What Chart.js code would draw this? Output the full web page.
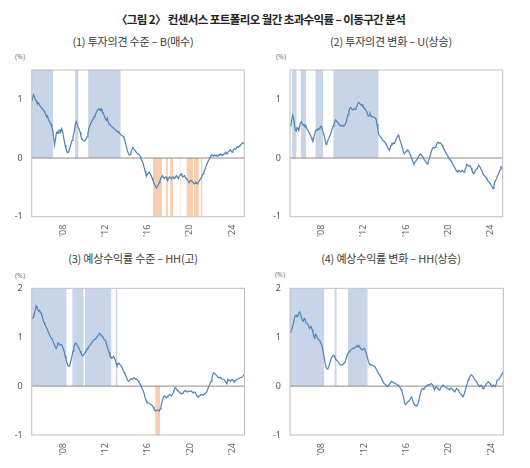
<!DOCTYPE html>
<html>
<head>
<meta charset="utf-8">
<script src="https://cdn.jsdelivr.net/npm/chart.js@4.4.1/dist/chart.umd.min.js"></script>
<style>
  body { margin: 0; background: #fff; width: 530px; height: 468px; position: relative; overflow: hidden;
         font-family: "Noto Sans CJK KR", "Noto Sans", sans-serif; }
  .title { position: absolute; left: 0; width: 521px; top: 11px; text-align: center; font-weight: bold; font-size: 11.5px;
           letter-spacing: -0.6px; color: #222; }
  .sub { position: absolute; width: 260px; text-align: center; font-size: 11px; letter-spacing: -0.2px; color: #3a3a3a; }
  .unit { position: absolute; font-size: 7px; color: #777; font-family: "Noto Sans", sans-serif; }
  canvas { position: absolute; }
</style>
</head>
<body>
<div class="title">〈그림 2〉 컨센서스 포트폴리오 월간 초과수익률 – 이동구간 분석</div>

<div class="sub" style="left:3px; top:33px;">(1) 투자의견 수준 – B(매수)</div>
<div class="sub" style="left:261px; top:33px;">(2) 투자의견 변화 – U(상승)</div>
<div class="sub" style="left:3px; top:250px;">(3) 예상수익률 수준 – HH(고)</div>
<div class="sub" style="left:261px; top:250px;">(4) 예상수익률 변화 – HH(상승)</div>

<div class="unit" style="left:15px; top:52px;">(%)</div>
<div class="unit" style="left:276px; top:52px;">(%)</div>
<div class="unit" style="left:15px; top:271px;">(%)</div>
<div class="unit" style="left:275px; top:270px;">(%)</div>

<canvas id="c1" width="262" height="180" style="left:0px; top:62px;"></canvas>
<canvas id="c2" width="262" height="180" style="left:258px; top:62px;"></canvas>
<canvas id="c3" width="262" height="180" style="left:0px; top:280px;"></canvas>
<canvas id="c4" width="262" height="180" style="left:258px; top:280px;"></canvas>

<script>
// monthly series, Jan 2005 .. Mar 2025
const startYear = 2005;
const tickYears = [2008, 2012, 2016, 2020, 2024];
const tickLabels = ["'08", "'12", "'16", "'20", "'24"];

// (1) 투자의견 수준 - B(매수)
const buyLevel = [
  0.96, 1.02, 1.08, 1.05, 1.00, 0.98, 0.94, 0.93, 0.94, 0.90, 0.88, 0.86,
  0.85, 0.82, 0.80, 0.78, 0.74, 0.70, 0.72, 0.66, 0.62, 0.60, 0.58, 0.52,
  0.47, 0.35, 0.22, 0.32, 0.42, 0.45, 0.42, 0.47, 0.48, 0.44, 0.50, 0.46,
  0.38, 0.30, 0.22, 0.16, 0.12, 0.09, 0.10, 0.16, 0.20, 0.26, 0.30, 0.36,
  0.42, 0.50, 0.60, 0.62, 0.56, 0.52, 0.50, 0.44, 0.38, 0.33, 0.31, 0.30,
  0.29, 0.30, 0.33, 0.36, 0.42, 0.50, 0.55, 0.58, 0.62, 0.64, 0.66, 0.70,
  0.72, 0.76, 0.79, 0.82, 0.84, 0.83, 0.81, 0.84, 0.80, 0.78, 0.74, 0.70,
  0.66, 0.64, 0.68, 0.62, 0.58, 0.57, 0.55, 0.54, 0.52, 0.51, 0.50, 0.48,
  0.47, 0.46, 0.44, 0.45, 0.42, 0.41, 0.39, 0.38, 0.37, 0.34, 0.30, 0.24,
  0.18, 0.12, 0.08, 0.05, 0.06, 0.10, 0.14, 0.18, 0.16, 0.14, 0.12, 0.10,
  0.08, 0.07, 0.06, 0.04, 0.01, -0.03, -0.06, -0.10, -0.16, -0.22, -0.28, -0.30,
  -0.27, -0.25, -0.24, -0.28, -0.30, -0.34, -0.38, -0.42, -0.45, -0.48, -0.51, -0.49,
  -0.46, -0.42, -0.38, -0.34, -0.32, -0.30, -0.33, -0.35, -0.33, -0.32, -0.36, -0.38,
  -0.34, -0.32, -0.34, -0.36, -0.33, -0.32, -0.35, -0.34, -0.31, -0.30, -0.33, -0.35,
  -0.31, -0.29, -0.27, -0.30, -0.32, -0.31, -0.30, -0.33, -0.35, -0.37, -0.39, -0.41,
  -0.40, -0.38, -0.39, -0.41, -0.42, -0.44, -0.43, -0.41, -0.43, -0.44, -0.41, -0.38,
  -0.36, -0.34, -0.30, -0.27, -0.24, -0.20, -0.16, -0.12, -0.08, -0.05, -0.02, 0.01,
  0.04, 0.06, 0.05, 0.03, 0.05, 0.04, 0.05, 0.03, 0.04, 0.06, 0.05, 0.07,
  0.05, 0.04, 0.06, 0.07, 0.09, 0.10, 0.07, 0.08, 0.11, 0.12, 0.14, 0.12,
  0.10, 0.12, 0.15, 0.16, 0.15, 0.17, 0.19, 0.18, 0.20, 0.21, 0.23, 0.24,
  0.26, 0.25, 0.24
];

// (2) 투자의견 변화 - U(상승)
const upChange = [
  0.57, 0.55, 0.66, 0.73, 0.68, 0.58, 0.48, 0.46, 0.52, 0.50, 0.47, 0.55,
  0.60, 0.62, 0.58, 0.56, 0.57, 0.54, 0.55, 0.51, 0.48, 0.46, 0.42, 0.40,
  0.36, 0.32, 0.28, 0.34, 0.40, 0.46, 0.48, 0.47, 0.50, 0.49, 0.52, 0.54,
  0.53, 0.47, 0.42, 0.38, 0.30, 0.23, 0.26, 0.30, 0.33, 0.37, 0.40, 0.45,
  0.50, 0.54, 0.58, 0.62, 0.65, 0.63, 0.61, 0.59, 0.57, 0.56, 0.55, 0.56,
  0.55, 0.54, 0.56, 0.58, 0.62, 0.68, 0.74, 0.80, 0.85, 0.86, 0.84, 0.82,
  0.82, 0.84, 0.83, 0.86, 0.88, 0.92, 0.95, 0.94, 0.92, 0.90, 0.91, 0.88,
  0.86, 0.84, 0.82, 0.80, 0.76, 0.71, 0.72, 0.76, 0.72, 0.70, 0.71, 0.70,
  0.69, 0.68, 0.66, 0.58, 0.48, 0.40, 0.38, 0.36, 0.34, 0.31, 0.30, 0.28,
  0.27, 0.24, 0.22, 0.18, 0.15, 0.13, 0.17, 0.22, 0.25, 0.24, 0.26, 0.25,
  0.29, 0.33, 0.36, 0.39, 0.36, 0.31, 0.27, 0.22, 0.16, 0.10, 0.07, 0.09,
  0.11, 0.13, 0.14, 0.12, 0.08, 0.05, 0.01, -0.03, -0.07, -0.10, -0.08, -0.06,
  -0.03, -0.01, 0.02, 0.05, 0.07, 0.06, 0.04, 0.02, -0.01, -0.03, -0.05, -0.08,
  -0.10, -0.07, -0.03, 0.02, 0.07, 0.12, 0.16, 0.18, 0.17, 0.18, 0.20, 0.24,
  0.27, 0.26, 0.25, 0.26, 0.24, 0.22, 0.19, 0.16, 0.13, 0.10, 0.07, 0.05,
  0.02, -0.01, -0.03, -0.04, -0.07, -0.10, -0.13, -0.15, -0.18, -0.21, -0.23, -0.24,
  -0.21, -0.22, -0.24, -0.22, -0.21, -0.23, -0.24, -0.20, -0.17, -0.11, -0.12, -0.13,
  -0.14, -0.13, -0.17, -0.21, -0.24, -0.27, -0.25, -0.21, -0.19, -0.18, -0.14, -0.13,
  -0.15, -0.18, -0.21, -0.24, -0.28, -0.30, -0.31, -0.33, -0.36, -0.38, -0.40, -0.42,
  -0.44, -0.47, -0.49, -0.52, -0.46, -0.41, -0.38, -0.35, -0.31, -0.28, -0.24, -0.20,
  -0.15, -0.17, -0.18
];

// (3) 예상수익률 수준 - HH(고)
const highExp = [
  1.38, 1.39, 1.41, 1.48, 1.55, 1.64, 1.60, 1.56, 1.53, 1.55, 1.50, 1.49,
  1.42, 1.35, 1.30, 1.26, 1.22, 1.19, 1.15, 1.10, 1.06, 1.02, 0.99, 0.97,
  0.93, 0.88, 0.84, 0.79, 0.77, 0.82, 0.88, 0.86, 0.84, 0.85, 0.84, 0.81,
  0.76, 0.70, 0.62, 0.55, 0.48, 0.43, 0.40, 0.41, 0.47, 0.55, 0.63, 0.72,
  0.80, 0.86, 0.88, 0.86, 0.83, 0.80, 0.76, 0.72, 0.68, 0.64, 0.62, 0.64,
  0.66, 0.69, 0.72, 0.76, 0.78, 0.80, 0.83, 0.85, 0.88, 0.91, 0.93, 0.95,
  0.96, 0.98, 1.00, 1.02, 1.05, 1.08, 1.06, 1.04, 1.02, 0.99, 0.96, 0.95,
  0.93, 0.86, 0.80, 0.74, 0.69, 0.63, 0.59, 0.57, 0.58, 0.61, 0.58, 0.53,
  0.47, 0.42, 0.44, 0.47, 0.45, 0.43, 0.41, 0.38, 0.32, 0.29, 0.25, 0.21,
  0.16, 0.12, 0.10, 0.11, 0.14, 0.15, 0.14, 0.15, 0.17, 0.16, 0.14, 0.15,
  0.13, 0.11, 0.08, 0.05, 0.02, -0.03, -0.07, -0.11, -0.16, -0.24, -0.29, -0.33,
  -0.34, -0.34, -0.35, -0.37, -0.38, -0.40, -0.42, -0.46, -0.49, -0.51, -0.50, -0.49,
  -0.50, -0.51, -0.47, -0.41, -0.34, -0.27, -0.22, -0.20, -0.22, -0.24, -0.22, -0.20,
  -0.18, -0.17, -0.19, -0.20, -0.17, -0.14, -0.08, -0.03, -0.05, -0.07, -0.09, -0.11,
  -0.13, -0.14, -0.16, -0.15, -0.14, -0.12, -0.10, -0.09, -0.11, -0.12, -0.11, -0.10,
  -0.10, -0.11, -0.10, -0.13, -0.14, -0.12, -0.13, -0.17, -0.20, -0.22, -0.21, -0.20,
  -0.18, -0.17, -0.18, -0.19, -0.16, -0.15, -0.14, -0.12, -0.07, -0.03, 0.02, 0.06,
  0.10, 0.17, 0.24, 0.27, 0.26, 0.24, 0.22, 0.20, 0.18, 0.17, 0.18, 0.17,
  0.15, 0.14, 0.14, 0.13, 0.10, 0.07, 0.05, 0.14, 0.12, 0.12, 0.10, 0.12,
  0.14, 0.12, 0.09, 0.10, 0.12, 0.13, 0.14, 0.15, 0.16, 0.17, 0.17, 0.18,
  0.20, 0.22, 0.25
];

// (4) 예상수익률 변화 - HH(상승)
const upExp = [
  1.10, 1.12, 1.16, 1.22, 1.30, 1.38, 1.44, 1.45, 1.42, 1.44, 1.49, 1.52,
  1.47, 1.40, 1.35, 1.33, 1.38, 1.36, 1.30, 1.28, 1.27, 1.24, 1.18, 1.20,
  1.22, 1.16, 1.10, 1.02, 0.98, 1.06, 1.04, 0.98, 0.96, 0.94, 0.92, 0.88,
  0.84, 0.76, 0.66, 0.56, 0.46, 0.38, 0.35, 0.36, 0.40, 0.46, 0.52, 0.58,
  0.60, 0.63, 0.62, 0.58, 0.55, 0.53, 0.51, 0.49, 0.46, 0.44, 0.43, 0.44,
  0.45, 0.46, 0.48, 0.52, 0.58, 0.64, 0.68, 0.70, 0.72, 0.74, 0.75, 0.77,
  0.78, 0.77, 0.79, 0.81, 0.82, 0.80, 0.83, 0.80, 0.77, 0.75, 0.74, 0.76,
  0.77, 0.74, 0.70, 0.64, 0.58, 0.50, 0.46, 0.43, 0.44, 0.43, 0.42, 0.41,
  0.40, 0.38, 0.34, 0.31, 0.27, 0.24, 0.22, 0.19, 0.15, 0.11, 0.07, 0.05,
  0.04, 0.02, 0.00, -0.01, 0.01, 0.04, 0.07, 0.10, 0.09, 0.08, 0.07, 0.06,
  0.05, 0.03, 0.01, 0.02, -0.01, -0.03, -0.07, -0.11, -0.17, -0.25, -0.34, -0.38,
  -0.36, -0.33, -0.31, -0.30, -0.28, -0.24, -0.22, -0.28, -0.33, -0.38, -0.40, -0.39,
  -0.40, -0.37, -0.31, -0.22, -0.15, -0.09, -0.06, -0.05, -0.06, -0.03, -0.01, 0.01,
  0.02, 0.03, 0.02, 0.04, 0.05, 0.04, 0.02, -0.03, -0.08, -0.04, -0.01, -0.03,
  -0.05, -0.07, -0.08, -0.04, -0.01, 0.01, 0.02, -0.01, -0.02, -0.03, -0.04, -0.05,
  -0.06, -0.08, -0.05, -0.04, -0.06, -0.08, -0.10, -0.12, -0.08, -0.05, -0.07, -0.08,
  -0.12, -0.15, -0.17, -0.19, -0.22, -0.19, -0.14, -0.08, -0.01, 0.05, 0.12, 0.16,
  0.19, 0.22, 0.23, 0.21, 0.19, 0.15, 0.12, 0.10, 0.08, 0.04, 0.02, -0.01,
  0.01, 0.02, -0.01, -0.05, -0.03, -0.01, 0.02, 0.05, 0.07, 0.09, 0.07, 0.05,
  0.02, -0.01, 0.01, 0.02, 0.00, -0.01, 0.05, 0.12, 0.13, 0.14, 0.17, 0.19,
  0.23, 0.26, 0.29
];

// shaded periods (start year, end year)
const blueBands1 = [[2005.0, 2007.04], [2009.1, 2009.45], [2010.35, 2013.45]];
const orangeBands1 = [[2016.5, 2017.36], [2017.74, 2017.92], [2018.13, 2018.42], [2019.04, 2019.13],
                      [2019.68, 2020.32], [2020.37, 2020.86], [2021.03, 2021.21]];
const blueBands2 = [[2005.2, 2005.63], [2006.0, 2006.55], [2007.4, 2008.15], [2009.1, 2013.4]];
const orangeBands2 = [];
const blueBands3 = [[2005.0, 2008.31], [2008.84, 2009.93], [2010.03, 2012.57], [2012.95, 2013.14]];
const orangeBands3 = [[2016.7, 2017.17]];
const blueBands4 = [[2005.0, 2008.25], [2009.2, 2009.42], [2010.46, 2012.35]];
const orangeBands4 = [];

const lineColor = '#4f80b8';
const blueFill = '#c8d5e9';
const orangeFill = '#f8ceb0';

// plot frame on all four sides
const framePlugin = {
    id: 'frame',
    afterDatasetsDraw(chart) {
        const { ctx, chartArea: a } = chart;
        ctx.save();
        ctx.strokeStyle = '#bfbfbf';
        ctx.lineWidth = 1;
        ctx.strokeRect(a.left, a.top, a.right - a.left, a.bottom - a.top);
        ctx.restore();
    }
};

function makePanel(id, values, blueBands, orangeBands, yMax, yTicks, yWidth, pad) {
    const xMax = startYear + (values.length - 1) / 12;
    const datasets = [];

    // main series
    datasets.push({
        data: values.map((v, i) => ({ x: startYear + i / 12, y: v })),
        borderColor: lineColor,
        borderWidth: 1.2,
        pointRadius: 0,
        tension: 0,
        fill: false,
        order: 0
    });
    // zero line
    datasets.push({
        data: [{ x: startYear, y: 0 }, { x: xMax, y: 0 }],
        borderColor: '#8c8c8c',
        borderWidth: 1,
        pointRadius: 0,
        fill: false,
        order: 1
    });
    // shaded periods: blue above zero, orange below zero
    blueBands.forEach(b => datasets.push({
        data: [{ x: b[0], y: yMax }, { x: b[1], y: yMax }],
        borderColor: 'transparent',
        borderWidth: 0,
        pointRadius: 0,
        backgroundColor: blueFill,
        fill: 'origin',
        order: 2
    }));
    orangeBands.forEach(b => datasets.push({
        data: [{ x: b[0], y: -1 }, { x: b[1], y: -1 }],
        borderColor: 'transparent',
        borderWidth: 0,
        pointRadius: 0,
        backgroundColor: orangeFill,
        fill: 'origin',
        order: 2
    }));

    return new Chart(document.getElementById(id), {
        type: 'line',
        data: { datasets },
        options: {
            responsive: false,
            animation: false,
            events: [],
            layout: { padding: pad },
            plugins: { legend: { display: false }, tooltip: { enabled: false } },
            scales: {
                x: {
                    type: 'linear',
                    min: startYear,
                    max: xMax,
                    grid: { display: false, drawTicks: false },
                    border: { display: false },
                    afterBuildTicks: s => { s.ticks = tickYears.map(v => ({ value: v })); },
                    afterFit: s => { s.height = 20; s.paddingLeft = 0; s.paddingRight = 0; },
                    ticks: {
                        minRotation: 90,
                        maxRotation: 90,
                        padding: 8,
                        autoSkip: false,
                        color: '#666',
                        font: { family: 'Noto Sans', size: 9 },
                        callback: v => tickLabels[tickYears.indexOf(v)]
                    }
                },
                y: {
                    min: -1,
                    max: yMax,
                    grid: { display: false, drawTicks: false },
                    border: { display: false },
                    afterBuildTicks: s => { s.ticks = yTicks.map(v => ({ value: v })); },
                    afterFit: s => { s.width = yWidth; s.paddingTop = 0; s.paddingBottom = 0; },
                    ticks: {
                        padding: 9,
                        color: '#555',
                        font: { family: 'Noto Sans', size: 9 }
                    }
                }
            }
        },
        plugins: [framePlugin]
    });
}

makePanel('c1', buyLevel, blueBands1, orangeBands1, 1.5, [-1, 0, 1], 31.7, { left: 0, right: 17.7, top: 8, bottom: 5.3 });
makePanel('c2', upChange, blueBands2, orangeBands2, 1.5, [-1, 0, 1], 32, { left: 0, right: 17.3, top: 8, bottom: 5.3 });
makePanel('c3', highExp, blueBands3, orangeBands3, 2, [-1, 0, 1, 2], 31.7, { left: 0, right: 17.5, top: 8.3, bottom: 5 });
makePanel('c4', upExp, blueBands4, orangeBands4, 2, [-1, 0, 1, 2], 32, { left: 0, right: 16.7, top: 8.3, bottom: 5 });
</script>
</body>
</html>
